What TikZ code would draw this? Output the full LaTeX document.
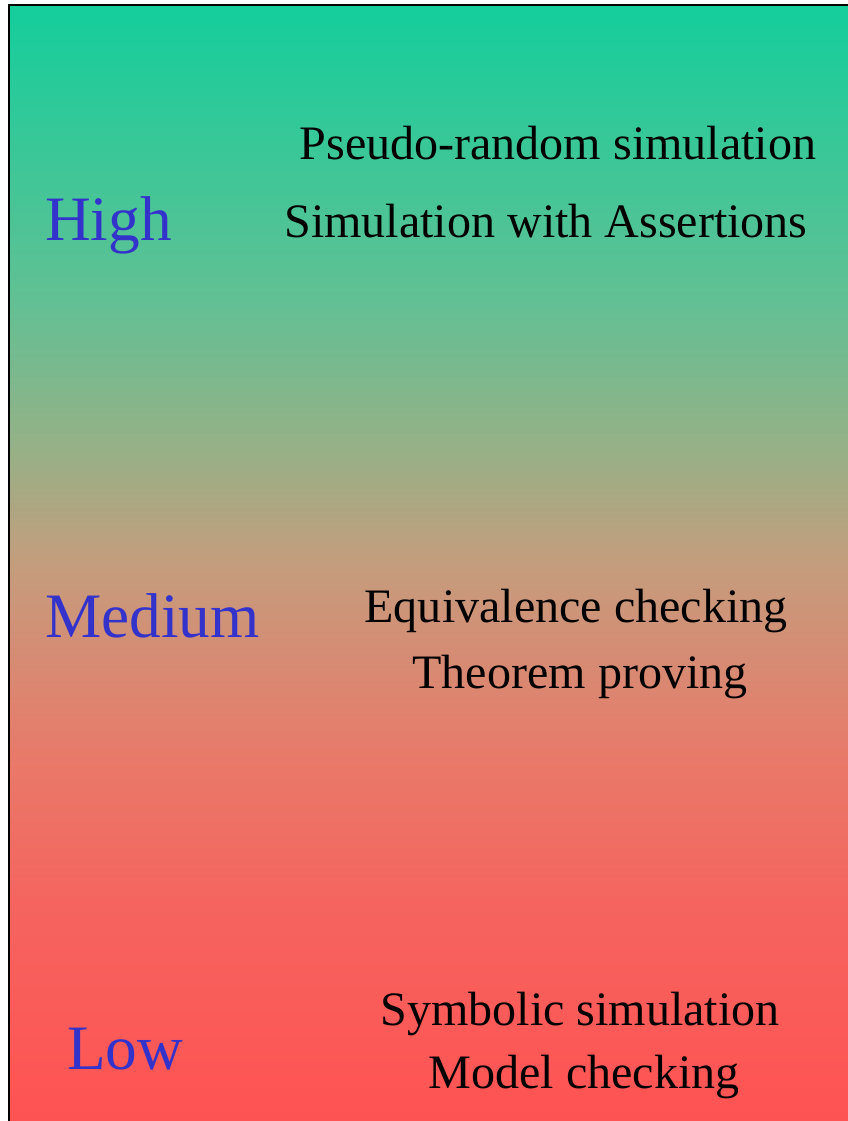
\documentclass[tikz,border=0pt]{standalone}
\usepackage{fontspec}
\setmainfont{Liberation Serif}
\usetikzlibrary{positioning}

\definecolor{topgreen}{RGB}{20,206,156}
\definecolor{upgreen}{RGB}{98,192,148}
\definecolor{olive}{RGB}{152,176,134}
\definecolor{tan}{RGB}{196,157,125}
\definecolor{salmon}{RGB}{232,122,106}
\definecolor{lowred}{RGB}{245,100,95}
\definecolor{botred}{RGB}{255,82,82}
\definecolor{levelblue}{RGB}{51,51,204}

% stops run bottom (25bp) to top (75bp)
\pgfdeclareverticalshading{levels}{100bp}{
  color(0bp)=(botred); color(25bp)=(botred); color(35bp)=(lowred);
  color(41.7bp)=(salmon); color(50.2bp)=(tan); color(55.1bp)=(olive);
  color(61.8bp)=(upgreen); color(75bp)=(topgreen); color(100bp)=(topgreen)}

\begin{document}
\begin{tikzpicture}[
  x=0.03cm, y=-0.03cm,
  level/.style={anchor=base west, inner sep=0, text=levelblue, font=\fontsize{54}{60}\selectfont},
  method/.style={anchor=base, inner sep=0, font=\fontsize{41}{48}\selectfont}
]
\useasboundingbox (0,0) rectangle (848,1121);
\begin{scope}
  \clip (0,0) rectangle (848,1121);
  \shade[shading=levels] (9,5) rectangle (870,1130);
  \draw[line width=2.2pt] (9,1130) -- (9,5) -- (870,5);
\end{scope}

% confidence levels
\node[level] (high) at (45,240) {High};
\node[level] (medium) at (45,637) {Medium};
\node[level] (low) at (67,1069) {Low};

% methods per level
\node[method] (pseudo) at (558,159) {Pseudo-random simulation};
\node[method] (assert) at (546,237) {Simulation with Assertions};
\node[method] (equiv) at (576,622) {Equivalence checking};
\node[method] (theorem) at (580,688) {Theorem proving};
\node[method] (symbolic) at (580,1025) {Symbolic simulation};
\node[method] (model) at (584,1088) {Model checking};
\end{tikzpicture}
\end{document}
